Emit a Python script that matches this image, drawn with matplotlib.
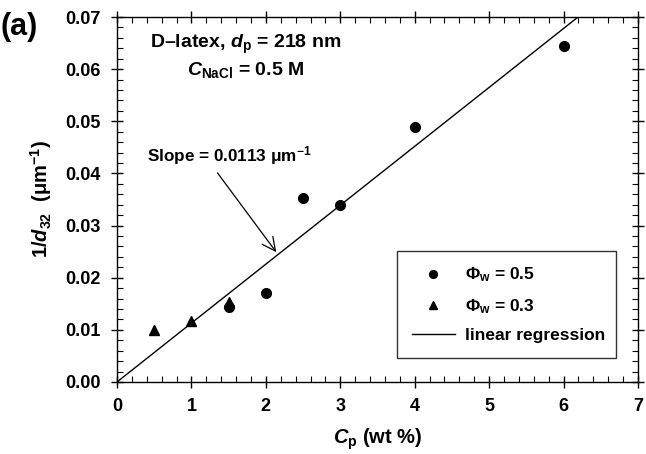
import matplotlib
matplotlib.use("Agg")
import matplotlib.pyplot as plt
import numpy as np
from matplotlib.ticker import MultipleLocator

plt.rcParams['font.family'] = ['Liberation Sans', 'DejaVu Sans']
plt.rcParams['font.weight'] = 'bold'
plt.rcParams['mathtext.fontset'] = 'custom'
plt.rcParams['mathtext.rm'] = 'Liberation Sans:bold'
plt.rcParams['mathtext.it'] = 'Liberation Sans:italic:bold'
plt.rcParams['mathtext.bf'] = 'Liberation Sans:bold'
plt.rcParams['mathtext.sf'] = 'Liberation Sans:bold'

# Data
cp_phi05 = [1.5, 2.0, 2.5, 3.0, 4.0, 6.0]
inv_d32_phi05 = [0.0144, 0.0171, 0.0353, 0.0340, 0.0490, 0.0645]
cp_phi03 = [0.5, 1.0, 1.5]
inv_d32_phi03 = [0.0100, 0.0117, 0.0154]
slope = 0.0113
fit_x = [0.0, 7.0]

fig = plt.figure(figsize=(6.46, 4.54), dpi=100)
ax = fig.add_axes([117/646, 1 - 382/454, (638 - 117)/646, (382 - 17)/454])

ax.plot(fit_x, [slope * x for x in fit_x], color='black', lw=1.0, label='linear regression', zorder=2)
ax.plot(cp_phi05, inv_d32_phi05, 'o', color='black', ms=7, label=r'$\Phi_{\mathrm{w}}$ = 0.5', zorder=3)
ax.plot(cp_phi03, inv_d32_phi03, '^', color='black', ms=7, label=r'$\Phi_{\mathrm{w}}$ = 0.3', zorder=3)

ax.set_xlim(0, 7)
ax.set_ylim(0, 0.07)
ax.xaxis.set_major_locator(MultipleLocator(1))
ax.xaxis.set_minor_locator(MultipleLocator(0.2))
ax.yaxis.set_major_locator(MultipleLocator(0.01))
ax.yaxis.set_minor_locator(MultipleLocator(0.002))
ax.yaxis.set_major_formatter(matplotlib.ticker.FormatStrFormatter('%.2f'))
ax.tick_params(which='major', direction='inout', length=9, width=1.0, top=True, right=True,
               labelsize=13, pad=7)
ax.tick_params(which='minor', direction='in', length=4, width=0.8, top=True, right=True)
for lab in ax.get_xticklabels() + ax.get_yticklabels():
    lab.set_fontweight('bold')
for s in ax.spines.values():
    s.set_linewidth(1.0)

ax.set_xlabel(r'$C_{\mathrm{p}}$ (wt %)', fontsize=14.5, fontweight='bold', labelpad=8)
ax.set_ylabel(r'1/$d_{\mathrm{32}}$  ($\mathrm{\mu m^{-1}}$)', fontsize=14.5, fontweight='bold', labelpad=8)

ax.text(1.73, 0.0648, r'D–latex, $d_{\mathrm{p}}$ = 218 nm', ha='center', va='center', fontsize=14, fontweight='bold')
ax.text(1.73, 0.0598, r'$C_{\mathrm{NaCl}}$ = 0.5 M', ha='center', va='center', fontsize=14, fontweight='bold')

ax.text(1.51, 0.0435, r'Slope = 0.0113 $\mathrm{\mu m^{-1}}$', ha='center', va='center',
        fontsize=12.3, fontweight='bold')
ax.annotate('', xy=(2.14, 0.0249), xytext=(1.35, 0.0401),
            arrowprops=dict(arrowstyle='->', color='black', lw=0.9, shrinkA=0, shrinkB=0,
                            mutation_scale=24))

fig.text(0.0, 1 - 27/454, '(a)', fontsize=22, fontweight='bold', ha='left', va='center')

h, l = ax.get_legend_handles_labels()
order = [1, 2, 0]
leg = ax.legend([h[i] for i in order], [l[i] for i in order], loc='lower left',
                bbox_to_anchor=(0.537, 0.066, 0.421, 0.29), mode='expand', borderaxespad=0,
                frameon=True, fancybox=False, edgecolor='black',
                handlelength=2.5, borderpad=0.85, labelspacing=0.72, handletextpad=0.6,
                markerscale=0.8, prop={'weight': 'bold', 'size': 12.5})
leg.get_frame().set_linewidth(1.0)
for t in leg.get_texts():
    t.set_fontweight('bold')

fig.savefig('out.png', dpi=100)
